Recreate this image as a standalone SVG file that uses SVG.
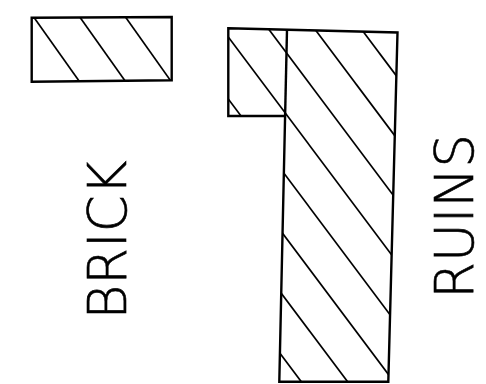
<svg xmlns="http://www.w3.org/2000/svg" width="486" height="384" viewBox="0 0 486 384">
<style>
.outline{fill:none;stroke:#000;stroke-width:2.4;stroke-linejoin:miter}
.hatch{stroke:#000;stroke-width:1.7;fill:none}
.label{font-family:"DejaVu Sans",Lato,sans-serif;font-weight:200;font-size:53px;fill:#000;stroke:#000;stroke-width:0.6;text-anchor:middle}
</style>
<defs>
<clipPath id="brickClip"><polygon points="31.7,17.7 171.7,17 171.7,80.3 31.7,81.7"/></clipPath>
<clipPath id="ruinsClip"><polygon points="228.3,28.3 397.5,32.5 388.3,381.7 279.3,381.7 285.1,116 228.3,116"/></clipPath>
</defs>
<rect width="486" height="384" fill="#fff"/>
<g id="brick">
<g class="hatch" clip-path="url(#brickClip)">
<line x1="21.6" y1="0" x2="81.9" y2="85"/>
<line x1="67.7" y1="0" x2="128" y2="85"/>
<line x1="113.4" y1="0" x2="173.7" y2="85"/>
</g>
<polygon class="outline" points="31.7,17.7 171.7,17 171.7,80.3 31.7,81.7"/>
<text class="label" transform="translate(126,240) rotate(-90)">BRICK</text>
</g>
<g id="ruins">
<g class="hatch" clip-path="url(#ruinsClip)">
<line x1="15" y1="0" x2="315" y2="400"/>
<line x1="61.3" y1="0" x2="361.3" y2="400"/>
<line x1="107.6" y1="0" x2="407.6" y2="400"/>
<line x1="154" y1="0" x2="454" y2="400"/>
<line x1="200.5" y1="0" x2="500.5" y2="400"/>
<line x1="246.8" y1="0" x2="546.8" y2="400"/>
<line x1="293" y1="0" x2="593" y2="400"/>
<line x1="339.5" y1="0" x2="639.5" y2="400"/>
</g>
<polygon class="outline" points="228.3,28.3 397.5,32.5 388.3,381.7 279.3,381.7 285.1,116 228.3,116"/>
<line class="outline" x1="287" y1="30" x2="285.1" y2="116"/>
<text class="label" transform="translate(473,216.5) rotate(-90)">RUINS</text>
</g>
</svg>
